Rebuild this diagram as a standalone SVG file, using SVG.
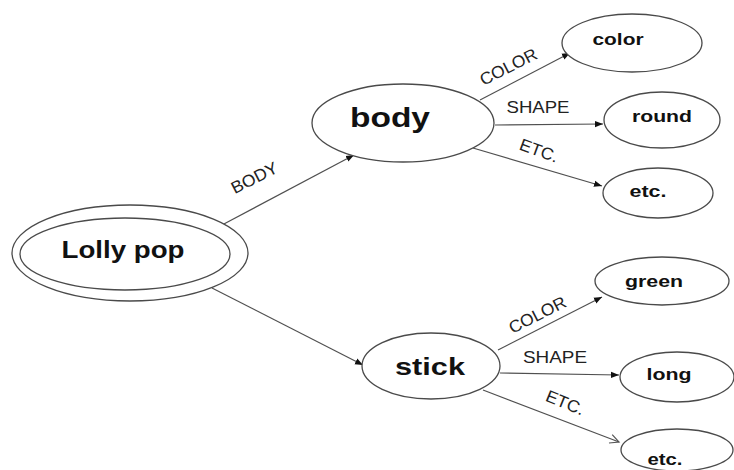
<svg xmlns="http://www.w3.org/2000/svg" width="734" height="470" viewBox="0 0 734 470">
<defs>
<marker id="arr" markerUnits="userSpaceOnUse" markerWidth="10" markerHeight="8" refX="8" refY="4" orient="auto">
<path d="M0,0.8 L8,4 L0,7.2 Z" fill="#111"/>
</marker>
<marker id="open" markerUnits="userSpaceOnUse" markerWidth="12" markerHeight="12" refX="10" refY="6" orient="auto">
<path d="M1,1.5 L10,6 L1,10.5" fill="none" stroke="#555" stroke-width="1.2"/>
</marker>
</defs>
<style>
.n{fill:#fff;stroke:#4a4a4a;stroke-width:1.3}
.t{font-family:"Liberation Sans",Arial,sans-serif;font-weight:bold;fill:#111;text-anchor:middle}
.e{stroke:#505050;stroke-width:1.2;fill:none}
.l{font-family:"Liberation Sans",Arial,sans-serif;font-size:17px;fill:#222;text-anchor:middle}
</style>
<rect width="734" height="470" fill="#fff"/>
<g id="connectors">
<line class="e" x1="222" y1="225" x2="354" y2="155" marker-end="url(#arr)"/>
<line class="e" x1="212" y1="288" x2="363" y2="365" marker-end="url(#arr)"/>
<line class="e" x1="480" y1="100" x2="570" y2="53" marker-end="url(#arr)"/>
<line class="e" x1="495" y1="125" x2="603" y2="124" marker-end="url(#arr)"/>
<line class="e" x1="473" y1="148" x2="602" y2="186" marker-end="url(#arr)"/>
<line class="e" x1="498" y1="350" x2="602" y2="297" marker-end="url(#arr)"/>
<line class="e" x1="500" y1="373" x2="619" y2="375" marker-end="url(#arr)"/>
<line class="e" x1="483" y1="390" x2="619" y2="442" marker-end="url(#open)"/>
<text class="l" transform="translate(257,183) rotate(-27)" textLength="50" lengthAdjust="spacingAndGlyphs">BODY</text>
<text class="l" transform="translate(511,72) rotate(-27)" textLength="62" lengthAdjust="spacingAndGlyphs">COLOR</text>
<text class="l" x="538" y="113" textLength="63" lengthAdjust="spacingAndGlyphs">SHAPE</text>
<text class="l" transform="translate(537,156) rotate(20)" textLength="40" lengthAdjust="spacingAndGlyphs">ETC.</text>
<text class="l" transform="translate(540,320) rotate(-27)" textLength="62" lengthAdjust="spacingAndGlyphs">COLOR</text>
<text class="l" x="555" y="363" textLength="64" lengthAdjust="spacingAndGlyphs">SHAPE</text>
<text class="l" transform="translate(563,408) rotate(22)" textLength="40" lengthAdjust="spacingAndGlyphs">ETC.</text>
</g>
<g id="lollypop">
<ellipse class="n" cx="130" cy="253" rx="118" ry="48"/>
<ellipse class="n" cx="125" cy="254" rx="105" ry="36"/>
<text class="t" x="123" y="258" font-size="24" textLength="123" lengthAdjust="spacingAndGlyphs">Lolly pop</text>
</g>
<g id="body">
<ellipse class="n" cx="403" cy="123" rx="91" ry="39"/>
<text class="t" x="390" y="127" font-size="28" textLength="80" lengthAdjust="spacingAndGlyphs">body</text>
</g>
<g id="stick">
<ellipse class="n" cx="431" cy="366" rx="69" ry="33"/>
<text class="t" x="430" y="375" font-size="24" textLength="70" lengthAdjust="spacingAndGlyphs">stick</text>
</g>
<g id="color">
<ellipse class="n" cx="632" cy="43" rx="70" ry="29"/>
<text class="t" x="618" y="45" font-size="17" textLength="51" lengthAdjust="spacingAndGlyphs">color</text>
</g>
<g id="round">
<ellipse class="n" cx="662" cy="120" rx="58" ry="28"/>
<text class="t" x="662" y="122" font-size="17" textLength="60" lengthAdjust="spacingAndGlyphs">round</text>
</g>
<g id="etc1">
<ellipse class="n" cx="658" cy="193" rx="55" ry="25"/>
<text class="t" x="648" y="197" font-size="17" textLength="37" lengthAdjust="spacingAndGlyphs">etc.</text>
</g>
<g id="green">
<ellipse class="n" cx="662" cy="281" rx="67" ry="24"/>
<text class="t" x="654" y="287" font-size="17" textLength="58" lengthAdjust="spacingAndGlyphs">green</text>
</g>
<g id="long">
<ellipse class="n" cx="677" cy="377" rx="57" ry="25"/>
<text class="t" x="669" y="380" font-size="17" textLength="45" lengthAdjust="spacingAndGlyphs">long</text>
</g>
<g id="etc2">
<ellipse class="n" cx="677" cy="450" rx="56" ry="21"/>
<text class="t" x="665" y="465" font-size="17" textLength="35" lengthAdjust="spacingAndGlyphs">etc.</text>
</g>
</svg>
